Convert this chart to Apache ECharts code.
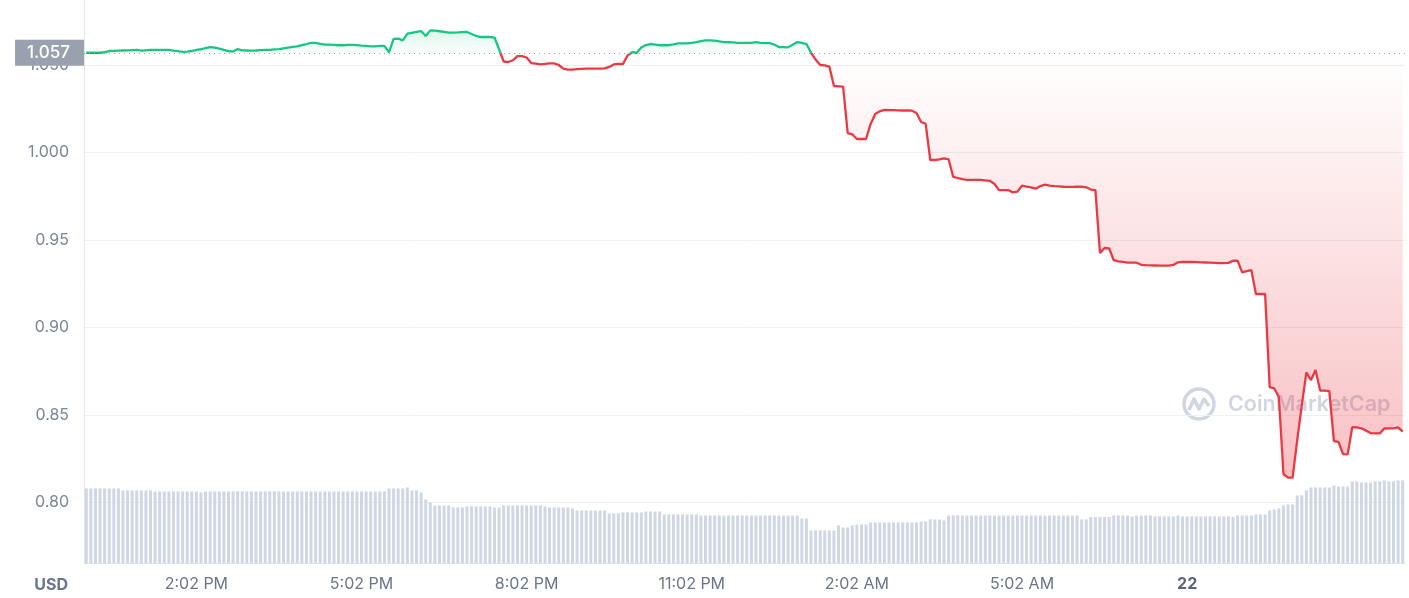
<!DOCTYPE html>
<html>
<head>
<meta charset="utf-8">
<script src="https://cdn.jsdelivr.net/npm/echarts@6.0.0/dist/echarts.min.js"></script>
<style>
html,body{margin:0;padding:0;background:#ffffff;}
#chart{width:1409px;height:598px;}
</style>
</head>
<body>
<div id="chart"></div>
<script>
// ---- data ----
const openPrice = 1.057;
const startMinutes = 12 * 60 + 2;   // first sample 12:02 PM
const stepMinutes = 5;

const prices = [
1.0570,1.0570,1.0570,1.0570,1.0574,1.0580,1.0581,1.0582,1.0583,1.0584,1.0585,1.0586,
1.0582,1.0584,1.0586,1.0586,1.0586,1.0586,1.0586,1.0582,1.0579,1.0575,1.0577,1.0580,
1.0586,1.0590,1.0597,1.0602,1.0599,1.0593,1.0586,1.0580,1.0577,1.0591,1.0584,1.0583,
1.0582,1.0583,1.0585,1.0586,1.0587,1.0589,1.0591,1.0595,1.0599,1.0603,1.0607,1.0614,
1.0620,1.0627,1.0626,1.0621,1.0616,1.0616,1.0615,1.0613,1.0613,1.0615,1.0615,1.0614,
1.0611,1.0609,1.0607,1.0607,1.0609,1.0609,1.0572,1.0649,1.0651,1.0641,1.0679,1.0684,
1.0689,1.0694,1.0666,1.0698,1.0696,1.0693,1.0689,1.0685,1.0685,1.0686,1.0688,1.0689,
1.0677,1.0666,1.0660,1.0660,1.0660,1.0657,1.0590,1.0520,1.0517,1.0527,1.0551,1.0551,
1.0543,1.0511,1.0508,1.0504,1.0506,1.0509,1.0509,1.0500,1.0479,1.0474,1.0474,1.0476,
1.0478,1.0479,1.0479,1.0479,1.0479,1.0481,1.0489,1.0503,1.0507,1.0505,1.0554,1.0574,
1.0570,1.0600,1.0614,1.0620,1.0617,1.0613,1.0613,1.0613,1.0618,1.0624,1.0624,1.0624,
1.0627,1.0631,1.0637,1.0641,1.0641,1.0639,1.0635,1.0631,1.0630,1.0629,1.0627,1.0626,
1.0626,1.0627,1.0631,1.0627,1.0625,1.0625,1.0617,1.0603,1.0602,1.0601,1.0616,1.0631,
1.0626,1.0620,1.0571,1.0531,1.0500,1.0498,1.0491,1.0380,1.0378,1.0376,1.0110,1.0104,
1.0077,1.0077,1.0077,1.0163,1.0220,1.0235,1.0243,1.0242,1.0242,1.0241,1.0240,1.0240,
1.0239,1.0226,1.0174,1.0164,0.9957,0.9957,0.9960,0.9966,0.9961,0.9861,0.9854,0.9847,
0.9843,0.9843,0.9843,0.9843,0.9840,0.9838,0.9820,0.9785,0.9785,0.9785,0.9772,0.9776,
0.9810,0.9805,0.9801,0.9793,0.9808,0.9816,0.9811,0.9808,0.9806,0.9804,0.9803,0.9803,
0.9804,0.9804,0.9801,0.9788,0.9785,0.9425,0.9454,0.9452,0.9384,0.9378,0.9374,0.9370,
0.9370,0.9370,0.9358,0.9356,0.9355,0.9354,0.9353,0.9353,0.9353,0.9357,0.9372,0.9374,
0.9374,0.9374,0.9373,0.9372,0.9371,0.9370,0.9369,0.9368,0.9367,0.9369,0.9381,0.9382,
0.9315,0.9322,0.9328,0.9191,0.9191,0.9191,0.8659,0.8651,0.8602,0.8162,0.8141,0.8141,
0.8356,0.8556,0.8743,0.8699,0.8756,0.8639,0.8639,0.8636,0.8350,0.8345,0.8276,0.8274,
0.8430,0.8428,0.8423,0.8410,0.8396,0.8394,0.8394,0.8422,0.8423,0.8423,0.8428,0.8404
];

// volume (relative units, millions)
const volumes = [
15.0,15.0,15.0,15.0,15.0,15.0,15.0,15.0,14.6,14.6,14.6,14.6,
14.6,14.6,14.6,14.4,14.4,14.4,14.4,14.4,14.4,14.4,14.4,14.4,
14.4,14.2,14.4,14.4,14.4,14.4,14.4,14.4,14.4,14.4,14.4,14.4,
14.4,14.4,14.4,14.4,14.4,14.4,14.4,14.4,14.4,14.4,14.4,14.4,
14.4,14.4,14.4,14.4,14.4,14.4,14.4,14.4,14.4,14.4,14.4,14.4,
14.4,14.4,14.4,14.4,14.4,14.4,15.0,15.0,15.0,15.0,15.2,14.6,
14.6,14.2,12.8,12.2,11.6,11.6,11.6,11.6,11.2,11.2,11.2,11.4,
11.4,11.4,11.4,11.4,11.4,11.2,11.2,11.6,11.6,11.6,11.6,11.6,
11.6,11.6,11.6,11.6,11.4,11.2,11.2,11.2,11.2,11.2,11.0,10.6,
10.6,10.6,10.6,10.6,10.6,10.6,10.0,10.0,10.0,10.2,10.2,10.2,
10.2,10.2,10.4,10.4,10.4,10.4,9.8,9.8,9.8,9.8,9.8,9.8,
9.8,9.8,9.6,9.6,9.6,9.6,9.6,9.6,9.6,9.6,9.6,9.6,
9.6,9.6,9.6,9.6,9.6,9.6,9.6,9.6,9.6,9.6,9.6,9.6,
9.0,9.0,6.6,6.6,6.6,6.6,6.6,6.6,7.6,7.2,7.2,7.6,
7.8,7.8,7.8,8.2,8.2,8.2,8.2,8.2,8.2,8.2,8.2,8.2,
8.2,8.2,8.4,8.4,8.8,8.8,8.8,8.6,9.6,9.6,9.6,9.6,
9.6,9.6,9.6,9.6,9.6,9.6,9.6,9.6,9.6,9.6,9.6,9.6,
9.6,9.6,9.6,9.6,9.6,9.6,9.6,9.6,9.6,9.6,9.6,9.6,
9.6,8.8,8.8,9.3,9.3,9.3,9.3,9.3,9.6,9.6,9.6,9.6,
9.4,9.6,9.6,9.6,9.6,9.4,9.4,9.4,9.4,9.4,9.6,9.4,
9.4,9.4,9.4,9.4,9.4,9.4,9.4,9.4,9.4,9.4,9.3,9.6,
9.6,9.6,9.6,9.8,9.8,9.8,10.6,10.8,11.0,11.6,11.8,11.8,
13.6,13.6,14.6,15.2,15.2,15.2,15.2,15.2,15.6,15.4,15.4,15.4,
16.4,16.4,16.2,16.2,16.2,16.4,16.4,16.6,16.4,16.4,16.6,16.6
];

const tickIndex  = [24, 60, 96, 132, 168, 204, 240];
const tickLabels = ['2:02 PM', '5:02 PM', '8:02 PM', '11:02 PM', '2:02 AM', '5:02 AM', '22'];

// category timestamps (5-minute samples)
const categories = prices.map(function (_, i) {
  const m = (startMinutes + i * stepMinutes) % 1440;
  let h = Math.floor(m / 60), mm = m % 60;
  const ap = h >= 12 ? 'PM' : 'AM';
  h = h % 12; if (h === 0) h = 12;
  return h + ':' + (mm < 10 ? '0' : '') + mm + ' ' + ap;
});

// ---- chart ----
const GREEN = '#16c784', RED = '#ea3943';
const FONT = 'Inter, "Noto Sans", sans-serif';
const chart = echarts.init(document.getElementById('chart'), null, {renderer: 'canvas'});
const showTick = function (i) { return tickIndex.indexOf(i) >= 0; };

const option = {
  animation: false,
  backgroundColor: '#ffffff',
  grid: [
    {left: 84, right: 4, top: 0, bottom: 8.2},
    {left: 84, right: 4, top: 0, bottom: 34.5}
  ],
  xAxis: [
    {type: 'category', gridIndex: 0, data: categories, boundaryGap: true, show: false},
    {type: 'category', gridIndex: 1, data: categories, boundaryGap: true,
     axisLine: {lineStyle: {color: '#e3e6eb', width: 1}},
     axisTick: {alignWithLabel: true, interval: showTick, length: 5, lineStyle: {color: '#8c95a8', width: 1}},
     axisLabel: {
       interval: showTick,
       formatter: function (v, i) {
         const t = tickLabels[tickIndex.indexOf(i)] || '';
         return /^\d+$/.test(t) ? '{b|' + t + '}' : t;
       },
       color: '#6b7588', fontSize: 16, fontFamily: FONT, margin: 13,
       rich: {b: {fontWeight: 'bold', color: '#58667e', fontSize: 16, fontFamily: FONT}}
     },
     splitLine: {show: false}
    }
  ],
  yAxis: [
    {type: 'value', gridIndex: 0, min: 0.75, max: 1.08716, interval: 0.05,
     axisLine: {show: false}, axisTick: {show: false},
     splitLine: {show: true, showMinLine: false, showMaxLine: false, lineStyle: {color: '#eef0f3', width: 1}},
     axisLabel: {
       showMinLabel: false, showMaxLabel: false,
       formatter: function (v) { return v >= 1 ? v.toFixed(3) : v.toFixed(2); },
       color: '#7a8598', fontSize: 16, fontFamily: FONT, margin: 15
     }
    },
    {type: 'value', gridIndex: 1, min: 0, max: 112.6,
     axisLine: {show: true, lineStyle: {color: '#e3e6eb', width: 1}},
     axisTick: {show: false}, axisLabel: {show: false}, splitLine: {show: false}
    }
  ],
  visualMap: {
    type: 'piecewise', show: false, seriesIndex: 0, dimension: 1,
    pieces: [
      {gte: 0.5, lt: openPrice, color: RED},
      {gte: openPrice, lte: 1.5, color: GREEN}
    ]
  },
  series: [
    {
      type: 'line', xAxisIndex: 0, yAxisIndex: 0, data: prices,
      symbol: 'none', showSymbol: false, z: 3,
      lineStyle: {width: 2.3},
      areaStyle: {
        origin: openPrice, opacity: 1,
        color: {
          type: 'linear', x: 0, y: 28, x2: 0, y2: 480, global: true,
          colorStops: [
            {offset: 0, color: 'rgba(22,199,132,0.16)'},
            {offset: 0.055, color: 'rgba(22,199,132,0.02)'},
            {offset: 0.055, color: 'rgba(234,57,67,0.0)'},
            {offset: 1, color: 'rgba(234,57,67,0.32)'}
          ]
        }
      },
      markLine: {
        silent: true, symbol: 'none', animation: false, precision: 4,
        lineStyle: {color: '#9ea5b3', type: [1, 4], width: 1},
        label: {
          position: 'start', distance: 0,
          formatter: openPrice.toFixed(3),
          color: '#ffffff', fontSize: 17, fontFamily: FONT, fontWeight: 500,
          backgroundColor: '#9aa1ae', padding: [5, 14, 4, 12]
        },
        data: [{yAxis: openPrice}]
      }
    },
    {
      type: 'bar', xAxisIndex: 1, yAxisIndex: 1, data: volumes,
      barCategoryGap: '35%', z: 1,
      itemStyle: {color: '#cfd6e4'}
    }
  ],
  graphic: [
    {type: 'text', x: 68, y: 585, z: 10,
     style: {text: 'USD', font: 'bold 16px ' + FONT, fill: '#6b7588', align: 'right', verticalAlign: 'middle'}},
    {type: 'group', z: 0, children: [
      {type: 'circle', shape: {cx: 1199, cy: 404, r: 15},
       style: {fill: 'none', stroke: 'rgba(150,162,188,0.45)', lineWidth: 3.5}},
      {type: 'polyline', shape: {points: [[1189, 410], [1194, 399], [1199, 409], [1204, 399], [1209, 406]]},
       style: {fill: 'none', stroke: 'rgba(150,162,188,0.45)', lineWidth: 3.5, lineJoin: 'round'}},
      {type: 'text', x: 1228, y: 405,
       style: {text: 'CoinMarketCap', font: '600 21.5px ' + FONT, fill: 'rgba(150,162,188,0.45)', verticalAlign: 'middle'}}
    ]}
  ]
};
chart.setOption(option);
</script>
</body>
</html>
